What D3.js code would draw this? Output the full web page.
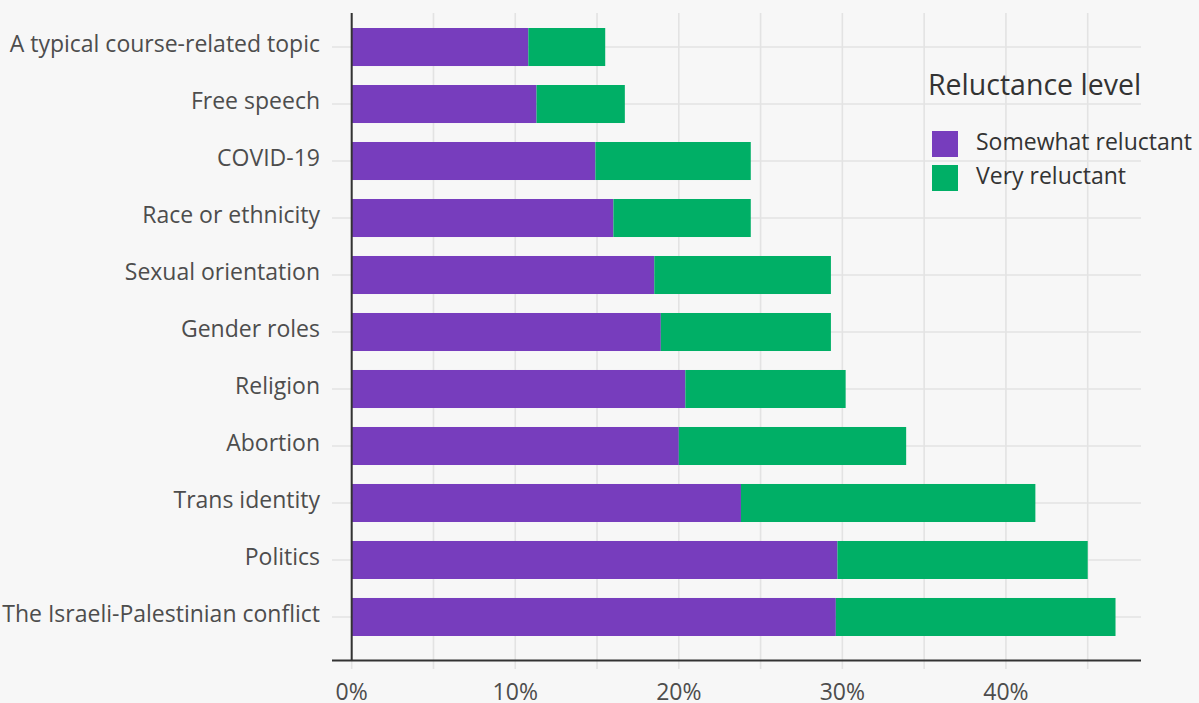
<!DOCTYPE html>
<html>
<head>
<meta charset="utf-8">
<script src="https://cdn.jsdelivr.net/npm/d3@7"></script>
<style>
  body { margin: 0; background: #f7f7f7; }
  svg { display: block; font-family: "Open Sans", sans-serif; }
</style>
</head>
<body>
<svg></svg>
<script>
var topics = ["A typical course-related topic", "Free speech", "COVID-19", "Race or ethnicity",
  "Sexual orientation", "Gender roles", "Religion", "Abortion", "Trans identity", "Politics",
  "The Israeli-Palestinian conflict"];
var somewhat = [10.8, 11.3, 14.9, 16.0, 18.5, 18.9, 20.4, 20.0, 23.8, 29.7, 29.6];
var very = [4.7, 5.4, 9.5, 8.4, 10.8, 10.4, 9.8, 13.9, 18.0, 15.3, 17.1];
var series = ["Somewhat reluctant", "Very reluctant"];
var colors = ["#773dbd", "#00af66"];
var xTicks = [0, 10, 20, 30, 40];
var gridTicks = [0, 5, 10, 15, 20, 25, 30, 35, 40, 45];

var width = 1199, height = 703;
var svg = d3.select("svg").attr("width", width).attr("height", height);
svg.append("rect").attr("width", width).attr("height", height).attr("fill", "#f7f7f7");

var x = d3.scaleLinear().domain([0, 48.24]).range([351.7, 1140.7]);
var y = d3.scaleBand().domain(topics).range([18.5, 645.5]).paddingInner(0.333).paddingOuter(0.1667);

var rows = topics.map(function (t, i) {
    return { topic: t, s: somewhat[i], v: very[i] };
});

// grid
var grid = svg.append("g");
grid.selectAll("line.v")
    .data(gridTicks)
    .enter().append("line")
    .attr("x1", function (d) { return x(d); })
    .attr("x2", function (d) { return x(d); })
    .attr("y1", 13).attr("y2", 669)
    .attr("stroke", "#e3e3e3").attr("stroke-width", 1.6);
grid.selectAll("line.h")
    .data(topics)
    .enter().append("line")
    .attr("x1", 332).attr("x2", 1141)
    .attr("y1", function (d) { return y(d) + y.bandwidth() / 2; })
    .attr("y2", function (d) { return y(d) + y.bandwidth() / 2; })
    .attr("stroke", "#e3e3e3").attr("stroke-width", 1.6);

// bars
var bars = svg.append("g");
bars.selectAll("rect.s")
    .data(rows)
    .enter().append("rect")
    .attr("x", x(0))
    .attr("y", function (d) { return y(d.topic); })
    .attr("width", function (d) { return x(d.s) - x(0); })
    .attr("height", y.bandwidth())
    .attr("fill", colors[0]);
bars.selectAll("rect.v")
    .data(rows)
    .enter().append("rect")
    .attr("x", function (d) { return x(d.s); })
    .attr("y", function (d) { return y(d.topic); })
    .attr("width", function (d) { return x(d.s + d.v) - x(d.s); })
    .attr("height", y.bandwidth())
    .attr("fill", colors[1]);

// axes lines
svg.append("line")
    .attr("x1", 332).attr("x2", 1141).attr("y1", 660.5).attr("y2", 660.5)
    .attr("stroke", "#333").attr("stroke-width", 2);
svg.append("line")
    .attr("x1", x(0)).attr("x2", x(0)).attr("y1", 13).attr("y2", 661)
    .attr("stroke", "#333").attr("stroke-width", 2);

// y labels
svg.append("g").selectAll("text")
    .data(topics)
    .enter().append("text")
    .attr("x", 320)
    .attr("y", function (d) { return y(d) + y.bandwidth() / 2; })
    .attr("dy", "0.23em")
    .attr("text-anchor", "end")
    .attr("font-size", 23)
    .attr("fill", "#4d4d4d")
    .text(function (d) { return d; });

// x labels
svg.append("g").selectAll("text")
    .data(xTicks)
    .enter().append("text")
    .attr("x", function (d) { return x(d); })
    .attr("y", 700)
    .attr("text-anchor", "middle")
    .attr("font-size", 23)
    .attr("fill", "#4d4d4d")
    .text(function (d) { return d + "%"; });

// legend
var legend = svg.append("g");
legend.append("text")
    .attr("x", 928).attr("y", 95)
    .attr("font-size", 28.5)
    .attr("fill", "#333")
    .text("Reluctance level");
var items = legend.selectAll("g.item")
    .data(series)
    .enter().append("g")
    .attr("transform", function (d, i) { return "translate(932," + (131 + i * 34) + ")"; });
items.append("rect")
    .attr("width", 26).attr("height", 26)
    .attr("fill", function (d, i) { return colors[i]; });
items.append("text")
    .attr("x", 44).attr("y", 12).attr("dy", "0.3em")
    .attr("font-size", 23)
    .attr("fill", "#333")
    .text(function (d) { return d; });
</script>
</body>
</html>
